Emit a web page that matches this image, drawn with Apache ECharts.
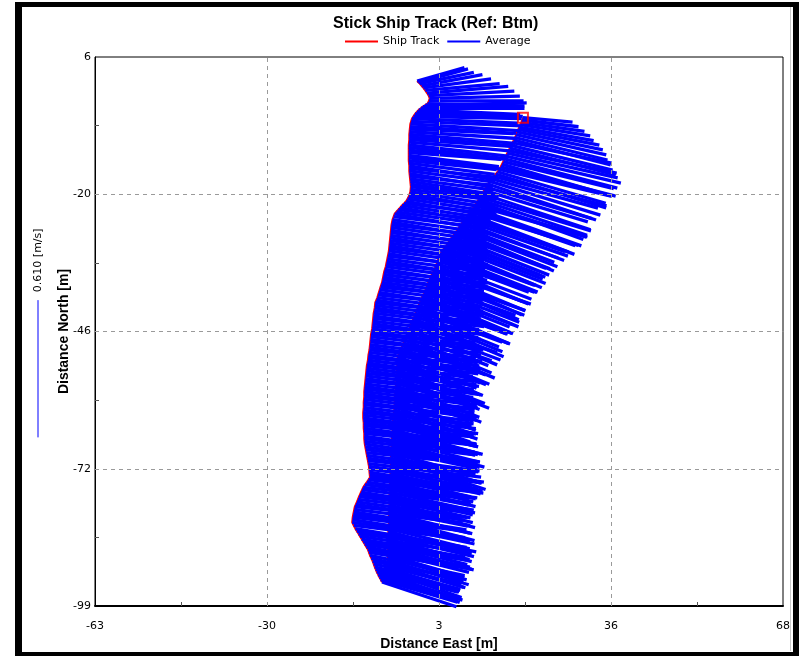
<!DOCTYPE html>
<html>
<head>
<meta charset="utf-8">
<script src="https://cdn.jsdelivr.net/npm/echarts@6/dist/echarts.min.js"></script>
<style>
  html, body { margin: 0; padding: 0; background: #ffffff; }
  #chart { width: 799px; height: 656px; }
</style>
</head>
<body>
<div id="chart"></div>
<script>
// Axis extents in metres (east / north of the reference point)
const xRange = [-63, 68.35];
const yRange = [-99, 6];
// Tick labels, from the minimum of each axis upwards
const xTickLabels = ['-63', '-30', '3', '36', '68'];
const yTickLabels = ['-99', '-72', '-46', '-20', '6'];
// Speed represented by the scale bar (one north grid step long)
const scaleSpeed = 0.610;

// Southbound leg of the ship track: [east m, north m, u m/s, v m/s]
const southLeg = [
  [18.7,-5.6,0.22,-0.02],[18.55,-6.05,0.25,-0.03],[18.4,-6.5,0.28,-0.04],[18.2,-6.95,0.31,-0.05],
  [18.0,-7.4,0.33,-0.06],[17.8,-7.85,0.36,-0.07],[17.6,-8.3,0.38,-0.08],[17.4,-8.85,0.40,-0.09],
  [17.2,-9.4,0.41,-0.10],[16.95,-9.9,0.43,-0.11],[16.7,-10.4,0.44,-0.09],[16.45,-10.9,0.45,-0.11],
  [16.2,-11.4,0.47,-0.12],[15.95,-11.9,0.48,-0.10],[15.7,-12.4,0.49,-0.11],[15.45,-12.95,0.51,-0.12],
  [15.2,-13.5,0.50,-0.13],[14.95,-14.0,0.49,-0.12],[14.7,-14.5,0.48,-0.14],[14.45,-15.0,0.51,-0.13],
  [14.2,-15.5,0.50,-0.12],[13.85,-15.95,0.48,-0.14],[13.5,-16.4,0.49,-0.15],[13.15,-16.85,0.50,-0.13],
  [12.8,-17.3,0.47,-0.13],[12.4,-17.8,0.49,-0.15],[12.0,-18.3,0.48,-0.16],[11.65,-18.9,0.47,-0.14],
  [11.3,-19.5,0.46,-0.14],[10.95,-20.15,0.48,-0.16],[10.6,-20.8,0.49,-0.15],[10.3,-21.2,0.48,-0.16],
  [10.0,-21.6,0.47,-0.17],[9.75,-22.0,0.49,-0.15],[9.5,-22.4,0.50,-0.14],[9.2,-22.8,0.48,-0.17],
  [8.9,-23.2,0.46,-0.16],[8.6,-23.6,0.48,-0.15],[8.3,-24.0,0.47,-0.18],[8.05,-24.4,0.45,-0.16],
  [7.8,-24.8,0.44,-0.15],[7.5,-25.2,0.46,-0.16],[7.2,-25.6,0.45,-0.17],[6.9,-26.0,0.43,-0.15],
  [6.6,-26.4,0.42,-0.16],[6.35,-26.8,0.44,-0.17],[6.1,-27.2,0.43,-0.18],[5.8,-27.6,0.42,-0.16],
  [5.5,-28.0,0.41,-0.15],[5.2,-28.4,0.43,-0.17],[4.9,-28.8,0.42,-0.17],[4.65,-29.2,0.40,-0.15],
  [4.4,-29.6,0.42,-0.16],[4.1,-30.0,0.44,-0.17],[3.8,-30.4,0.43,-0.18],[3.5,-30.8,0.41,-0.16],
  [3.2,-31.2,0.41,-0.15],[3.0,-31.65,0.43,-0.17],[2.8,-32.1,0.42,-0.16],[2.6,-32.55,0.40,-0.15],
  [2.4,-33.0,0.44,-0.14],[2.25,-33.45,0.42,-0.16],[2.1,-33.9,0.41,-0.17],[1.9,-34.35,0.39,-0.15],
  [1.7,-34.8,0.43,-0.15],[1.5,-35.2,0.41,-0.17],[1.3,-35.6,0.40,-0.18],[1.1,-36.05,0.42,-0.15],
  [0.9,-36.5,0.42,-0.16],[0.7,-36.95,0.40,-0.17],[0.5,-37.4,0.39,-0.14],[0.35,-37.85,0.41,-0.16],
  [0.2,-38.3,0.41,-0.17],[0.0,-38.75,0.39,-0.15],[-0.2,-39.2,0.38,-0.15],[-0.4,-39.6,0.40,-0.17],
  [-0.6,-40.0,0.40,-0.16],[-0.8,-40.5,0.38,-0.15],[-1.0,-41.0,0.39,-0.14],[-1.2,-41.5,0.40,-0.17],
  [-1.4,-42.0,0.41,-0.16],[-1.6,-42.5,0.38,-0.14],[-1.8,-43.0,0.37,-0.15],[-2.0,-43.5,0.39,-0.16],
  [-2.2,-44.0,0.40,-0.17],[-2.4,-44.5,0.37,-0.14],[-2.6,-45.0,0.38,-0.13],[-2.8,-45.5,0.40,-0.15],
  [-3.0,-46.0,0.39,-0.16],[-3.2,-46.5,0.37,-0.13],[-3.4,-47.0,0.36,-0.14],[-3.65,-47.55,0.38,-0.16],
  [-3.9,-48.1,0.40,-0.17],[-4.1,-48.65,0.36,-0.14],[-4.3,-49.2,0.37,-0.13],[-4.5,-49.7,0.39,-0.16],
  [-4.7,-50.2,0.38,-0.15],[-4.95,-50.75,0.36,-0.13],[-5.2,-51.3,0.35,-0.14],[-5.25,-51.8,0.37,-0.16],
  [-5.3,-52.3,0.38,-0.15],[-5.3,-52.8,0.35,-0.13],[-5.3,-53.3,0.36,-0.12],[-5.35,-53.8,0.39,-0.15],
  [-5.4,-54.3,0.41,-0.16],[-5.45,-54.85,0.38,-0.13],[-5.5,-55.4,0.37,-0.14],[-5.5,-55.9,0.36,-0.12],
  [-5.5,-56.4,0.35,-0.11],[-5.55,-56.9,0.37,-0.14],[-5.6,-57.4,0.38,-0.15],[-5.65,-57.9,0.36,-0.13],
  [-5.7,-58.4,0.34,-0.12],[-5.75,-58.9,0.35,-0.11],[-5.8,-59.4,0.36,-0.14],[-5.8,-59.9,0.34,-0.12],
  [-5.8,-60.4,0.33,-0.10],[-5.85,-60.95,0.35,-0.12],[-5.9,-61.5,0.37,-0.13],[-5.95,-62.0,0.35,-0.11],
  [-6.0,-62.5,0.34,-0.12],[-6.05,-63.05,0.37,-0.12],[-6.1,-63.6,0.36,-0.11],[-6.15,-64.15,0.37,-0.10],
  [-6.2,-64.7,0.38,-0.09],[-6.2,-65.2,0.39,-0.11],[-6.2,-65.7,0.40,-0.10],[-6.25,-66.2,0.38,-0.09],
  [-6.3,-66.7,0.37,-0.08],[-6.3,-67.2,0.39,-0.10],[-6.3,-67.7,0.41,-0.11],[-6.35,-68.2,0.39,-0.10],
  [-6.4,-68.7,0.38,-0.09],[-6.4,-69.2,0.37,-0.08],[-6.4,-69.7,0.36,-0.10],[-6.45,-70.2,0.39,-0.12],
  [-6.5,-70.7,0.42,-0.14],[-6.5,-71.2,0.40,-0.10],[-6.5,-71.7,0.38,-0.08],[-6.55,-72.2,0.36,-0.09],
  [-6.6,-72.7,0.37,-0.10],[-6.6,-73.2,0.39,-0.08],[-6.6,-73.7,0.40,-0.09],[-6.65,-74.2,0.38,-0.10],
  [-6.7,-74.7,0.36,-0.08],[-6.7,-75.2,0.37,-0.09],[-6.7,-75.7,0.38,-0.10],[-6.7,-76.2,0.36,-0.08],
  [-6.7,-76.7,0.35,-0.07],[-6.75,-77.2,0.36,-0.08],[-6.8,-77.7,0.37,-0.09],[-6.8,-78.2,0.38,-0.07],
  [-6.8,-78.7,0.36,-0.08],[-6.8,-79.2,0.37,-0.09],[-6.8,-79.7,0.38,-0.10],[-6.85,-80.2,0.36,-0.08],
  [-6.9,-80.7,0.35,-0.07],[-6.9,-81.2,0.36,-0.09],[-6.9,-81.7,0.37,-0.08],[-6.9,-82.2,0.38,-0.10],
  [-6.9,-82.7,0.36,-0.09],[-6.9,-83.2,0.35,-0.08],[-6.9,-83.7,0.38,-0.08],[-6.95,-84.2,0.36,-0.09],
  [-7.0,-84.7,0.37,-0.10],[-7.0,-85.2,0.39,-0.08],[-7.0,-85.7,0.38,-0.09],[-7.0,-86.2,0.37,-0.10],
  [-7.0,-86.7,0.36,-0.08],[-7.0,-87.2,0.35,-0.09],[-7.0,-87.7,0.37,-0.10],[-7.05,-88.2,0.38,-0.09],
  [-7.1,-88.7,0.36,-0.09],[-7.1,-89.2,0.34,-0.10],[-7.1,-89.7,0.35,-0.10],[-7.15,-90.2,0.36,-0.11],
  [-7.2,-90.7,0.34,-0.11],[-7.35,-91.2,0.35,-0.10],[-7.5,-91.7,0.33,-0.10],[-7.65,-92.2,0.34,-0.12],
  [-7.8,-92.7,0.33,-0.12],[-7.9,-93.15,0.35,-0.11],[-8.0,-93.6,0.34,-0.11]
];

// Northbound leg of the ship track: [east m, north m, u m/s, v m/s]
const northLeg = [
  [-8.2,-94.4,0.33,-0.11],[-8.45,-93.95,0.34,-0.10],[-8.7,-93.5,0.35,-0.10],[-8.95,-93.0,0.37,-0.11],
  [-9.2,-92.5,0.36,-0.09],[-9.4,-92.0,0.37,-0.10],[-9.6,-91.5,0.38,-0.10],[-9.8,-90.95,0.39,-0.09],
  [-10.0,-90.4,0.40,-0.08],[-10.25,-89.85,0.41,-0.10],[-10.5,-89.3,0.42,-0.09],[-10.7,-88.75,0.43,-0.07],
  [-10.9,-88.2,0.44,-0.08],[-11.2,-87.7,0.46,-0.09],[-11.5,-87.2,0.45,-0.07],[-11.8,-86.7,0.47,-0.08],
  [-12.1,-86.2,0.46,-0.08],[-12.4,-85.7,0.47,-0.07],[-12.7,-85.2,0.48,-0.06],[-13.0,-84.7,0.49,-0.08],
  [-13.3,-84.2,0.47,-0.08],[-13.6,-83.6,0.48,-0.06],[-13.9,-83.0,0.49,-0.07],[-13.85,-82.5,0.50,-0.08],
  [-13.8,-82.0,0.48,-0.06],[-13.7,-81.5,0.49,-0.07],[-13.6,-81.0,0.50,-0.08],[-13.5,-80.5,0.48,-0.06],
  [-13.4,-80.0,0.47,-0.05],[-13.2,-79.55,0.48,-0.07],[-13.0,-79.1,0.49,-0.07],[-12.8,-78.6,0.50,-0.06],
  [-12.6,-78.1,0.48,-0.06],[-12.4,-77.65,0.49,-0.07],[-12.2,-77.2,0.50,-0.08],[-12.0,-76.75,0.48,-0.06],
  [-11.8,-76.3,0.47,-0.05],[-11.45,-75.8,0.48,-0.06],[-11.1,-75.3,0.49,-0.07],[-10.8,-74.85,0.51,-0.06],
  [-10.5,-74.4,0.50,-0.06],[-10.55,-73.9,0.49,-0.07],[-10.6,-73.4,0.48,-0.08],[-10.65,-72.85,0.50,-0.06],
  [-10.7,-72.3,0.51,-0.07],[-10.8,-71.75,0.50,-0.06],[-10.9,-71.2,0.49,-0.05],[-11.0,-70.7,0.48,-0.07],
  [-11.1,-70.2,0.50,-0.07],[-11.2,-69.65,0.49,-0.05],[-11.3,-69.1,0.48,-0.06],[-11.4,-68.55,0.50,-0.07],
  [-11.5,-68.0,0.51,-0.08],[-11.55,-67.5,0.49,-0.06],[-11.6,-67.0,0.49,-0.06],[-11.6,-66.5,0.48,-0.07],
  [-11.6,-66.0,0.47,-0.05],[-11.65,-65.5,0.49,-0.06],[-11.7,-65.0,0.50,-0.07],[-11.7,-64.5,0.49,-0.05],
  [-11.7,-64.0,0.48,-0.06],[-11.75,-63.5,0.50,-0.06],[-11.8,-63.0,0.51,-0.07],[-11.8,-62.5,0.50,-0.06],
  [-11.8,-62.0,0.49,-0.05],[-11.75,-61.5,0.48,-0.07],[-11.7,-61.0,0.47,-0.06],[-11.7,-60.5,0.49,-0.05],
  [-11.7,-60.0,0.50,-0.07],[-11.65,-59.5,0.49,-0.06],[-11.6,-59.0,0.48,-0.05],[-11.6,-58.5,0.49,-0.07],
  [-11.6,-58.0,0.50,-0.06],[-11.55,-57.5,0.48,-0.05],[-11.5,-57.0,0.47,-0.07],[-11.45,-56.5,0.48,-0.06],
  [-11.4,-56.0,0.49,-0.05],[-11.35,-55.5,0.50,-0.07],[-11.3,-55.0,0.48,-0.06],[-11.25,-54.5,0.49,-0.05],
  [-11.2,-54.0,0.50,-0.07],[-11.15,-53.5,0.48,-0.06],[-11.1,-53.0,0.47,-0.05],[-11.0,-52.5,0.48,-0.07],
  [-10.9,-52.0,0.49,-0.06],[-10.85,-51.5,0.50,-0.05],[-10.8,-51.0,0.48,-0.07],[-10.7,-50.5,0.49,-0.06],
  [-10.6,-50.0,0.50,-0.05],[-10.55,-49.5,0.48,-0.07],[-10.5,-49.0,0.47,-0.06],[-10.45,-48.5,0.48,-0.05],
  [-10.4,-48.0,0.49,-0.07],[-10.35,-47.5,0.50,-0.06],[-10.3,-47.0,0.48,-0.05],[-10.2,-46.5,0.47,-0.07],
  [-10.1,-46.0,0.46,-0.06],[-10.05,-45.5,0.47,-0.05],[-10.0,-45.0,0.48,-0.07],[-9.95,-44.5,0.49,-0.06],
  [-9.9,-44.0,0.47,-0.05],[-9.85,-43.5,0.48,-0.07],[-9.8,-43.0,0.49,-0.06],[-9.7,-42.5,0.47,-0.05],
  [-9.6,-42.0,0.46,-0.07],[-9.55,-41.5,0.47,-0.06],[-9.5,-41.0,0.48,-0.05],[-9.3,-40.5,0.46,-0.07],
  [-9.1,-40.0,0.47,-0.06],[-8.95,-39.5,0.46,-0.05],[-8.8,-39.0,0.45,-0.07],[-8.65,-38.5,0.46,-0.06],
  [-8.5,-38.0,0.47,-0.05],[-8.35,-37.55,0.45,-0.07],[-8.2,-37.1,0.46,-0.06],[-8.1,-36.6,0.45,-0.05],
  [-8.0,-36.1,0.44,-0.07],[-7.9,-35.6,0.45,-0.06],[-7.8,-35.1,0.46,-0.05],[-7.65,-34.6,0.44,-0.07],
  [-7.5,-34.1,0.45,-0.06],[-7.4,-33.6,0.44,-0.05],[-7.3,-33.1,0.43,-0.07],[-7.2,-32.6,0.44,-0.06],
  [-7.1,-32.1,0.45,-0.05],[-7.0,-31.6,0.43,-0.07],[-6.9,-31.1,0.44,-0.06],[-6.85,-30.6,0.43,-0.05],
  [-6.8,-30.1,0.42,-0.07],[-6.75,-29.6,0.43,-0.06],[-6.7,-29.1,0.44,-0.05],[-6.65,-28.6,0.42,-0.07],
  [-6.6,-28.1,0.43,-0.06],[-6.55,-27.6,0.42,-0.05],[-6.5,-27.1,0.41,-0.07],[-6.45,-26.6,0.42,-0.06],
  [-6.4,-26.1,0.43,-0.05],[-6.3,-25.6,0.41,-0.07],[-6.2,-25.1,0.42,-0.06],[-6.0,-24.55,0.41,-0.05],
  [-5.8,-24.0,0.40,-0.07],[-5.45,-23.6,0.42,-0.06],[-5.1,-23.2,0.41,-0.05],[-4.75,-22.8,0.40,-0.07],
  [-4.4,-22.4,0.39,-0.06],[-4.0,-22.0,0.41,-0.05],[-3.6,-21.6,0.40,-0.07],[-3.35,-21.15,0.39,-0.06],
  [-3.1,-20.7,0.38,-0.05],[-2.95,-20.25,0.40,-0.07],[-2.8,-19.8,0.39,-0.06],[-2.75,-19.3,0.38,-0.05],
  [-2.7,-18.8,0.37,-0.05],[-2.75,-18.3,0.39,-0.06],[-2.8,-17.8,0.38,-0.06],[-2.85,-17.3,0.37,-0.05],
  [-2.9,-16.8,0.36,-0.04],[-2.95,-16.3,0.37,-0.06],[-3.0,-15.8,0.38,-0.05],[-3.0,-15.3,0.39,-0.04],
  [-3.0,-14.8,0.37,-0.06],[-3.05,-14.3,0.38,-0.05],[-3.1,-13.8,0.39,-0.04],[-3.1,-13.3,0.41,-0.05],
  [-3.1,-12.8,0.40,-0.05],[-3.1,-12.3,0.41,-0.03],[-3.1,-11.8,0.42,-0.04],[-3.1,-11.3,0.43,-0.05],
  [-3.1,-10.8,0.44,-0.05],[-3.05,-10.3,0.46,-0.04],[-3.0,-9.8,0.45,-0.03],[-3.0,-9.3,0.46,-0.04],
  [-3.0,-8.8,0.47,-0.04],[-2.95,-8.3,0.48,-0.03],[-2.9,-7.8,0.46,-0.02],[-2.85,-7.3,0.47,-0.03],
  [-2.8,-6.8,0.48,-0.03],[-2.65,-6.3,0.49,-0.02],[-2.5,-5.8,0.47,-0.02],[-2.2,-5.35,0.48,-0.01],
  [-1.9,-4.9,0.46,-0.01],[-1.55,-4.5,0.47,-0.02],[-1.2,-4.1,0.45,-0.02],[-0.8,-3.8,0.46,0.00],
  [-0.4,-3.5,0.44,0.00],[0.05,-3.2,0.45,0.01],[0.5,-2.9,0.43,-0.01],[0.75,-2.4,0.42,0.00],
  [0.9,-1.9,0.40,0.01],[0.7,-1.4,0.38,0.02],[0.4,-0.9,0.36,0.03],[0.05,-0.4,0.33,0.03],
  [-0.3,0.1,0.30,0.04],[-0.65,0.5,0.27,0.05],[-1.0,0.9,0.24,0.05],[-1.25,1.15,0.22,0.06],
  [-1.5,1.4,0.21,0.06]
];

const ensembles = southLeg.concat(northLeg);
const trackPoints = ensembles.map(r => [r[0], r[1]]);

const xStep = (xRange[1] - xRange[0]) / 4;
const yStep = (yRange[1] - yRange[0]) / 4;
const xTicks = [0, 1, 2, 3, 4].map(i => xRange[0] + i * xStep);
const yTicks = [0, 1, 2, 3, 4].map(i => yRange[0] + i * yStep);
const xMinor = [0, 1, 2, 3].map(i => xTicks[i] + xStep / 2);
const yMinor = [0, 1, 2, 3].map(i => yTicks[i] + yStep / 2);
// metres of plot per m/s: the scale-bar speed spans one north grid step
const stickScale = yStep / scaleSpeed;

const tickFont = { color: '#000', fontSize: 11, fontFamily: 'DejaVu Sans' };
const nameFont = { color: '#000', fontSize: 14, fontWeight: 'bold', fontFamily: 'Liberation Sans' };

const chart = echarts.init(document.getElementById('chart'), null, { renderer: 'canvas' });

chart.setOption({
  animation: false,
  backgroundColor: '#ffffff',
  title: {
    text: 'Stick Ship Track (Ref: Btm)',
    left: 328, top: 11,
    textStyle: { color: '#000', fontSize: 16, fontWeight: 'bold', fontFamily: 'Liberation Sans' }
  },
  legend: {
    left: 340, top: 31,
    itemWidth: 33, itemHeight: 2, itemGap: 8,
    selectedMode: false,
    textStyle: tickFont,
    data: [{ name: 'Ship Track', icon: 'rect' }, { name: 'Average', icon: 'rect' }]
  },
  grid: {
    left: 95, top: 57, width: 688, height: 550,
    show: true, borderColor: '#000', borderWidth: 1, backgroundColor: '#fff'
  },
  xAxis: [{
    type: 'value', min: xRange[0], max: xRange[1], position: 'bottom',
    axisLine: { onZero: false, lineStyle: { color: '#000', width: 2 } },
    axisTick: { show: false },
    splitLine: { show: false },
    axisLabel: Object.assign({
      customValues: xTicks, margin: 15,
      formatter: v => xTickLabels[Math.round((v - xRange[0]) / xStep)]
    }, tickFont),
    name: 'Distance East [m]', nameLocation: 'middle', nameGap: 31, nameMoveOverlap: false,
    nameTextStyle: nameFont
  }, {
    type: 'value', min: xRange[0], max: xRange[1], position: 'bottom',
    axisLine: { show: false, onZero: false }, axisLabel: { show: false }, splitLine: { show: false },
    axisTick: { show: true, inside: true, length: 4, customValues: xMinor, lineStyle: { color: '#555' } }
  }],
  yAxis: [{
    type: 'value', min: yRange[0], max: yRange[1], position: 'left',
    axisLine: { onZero: false, lineStyle: { color: '#000', width: 1 } },
    axisTick: { show: false },
    splitLine: { show: false },
    axisLabel: Object.assign({
      customValues: yTicks, margin: 4,
      formatter: v => yTickLabels[Math.round((v - yRange[0]) / yStep)]
    }, tickFont),
    name: 'Distance North [m]', nameLocation: 'middle', nameGap: 24, nameMoveOverlap: false,
    nameTextStyle: nameFont
  }, {
    type: 'value', min: yRange[0], max: yRange[1], position: 'left',
    axisLine: { show: false, onZero: false }, axisLabel: { show: false }, splitLine: { show: false },
    axisTick: { show: true, inside: true, length: 4, customValues: yMinor, lineStyle: { color: '#555' } }
  }],
  series: [{
    name: 'Ship Track',
    type: 'line',
    data: trackPoints,
    showSymbol: false,
    z: 1,
    color: '#ff0000',
    lineStyle: { color: '#ff0000', width: 2 },
    markLine: {
      silent: true, symbol: 'none', label: { show: false },
      lineStyle: { color: '#9a9a9a', type: [4, 4], width: 1 },
      data: xTicks.slice(1, 4).map(v => ({ xAxis: v })).concat(yTicks.slice(1, 4).map(v => ({ yAxis: v })))
    }
  }, {
    name: 'Average',
    type: 'custom',
    data: ensembles,
    encode: { x: 0, y: 1 },
    z: 2,
    color: '#0000ff',
    itemStyle: { color: '#0000ff' },
    renderItem: (params, api) => {
      const e = api.value(0), n = api.value(1), u = api.value(2), v = api.value(3);
      const p0 = api.coord([e, n]);
      const p1 = api.coord([e + u * stickScale, n + v * stickScale]);
      return {
        type: 'line',
        shape: { x1: p0[0], y1: p0[1], x2: p1[0], y2: p1[1] },
        style: { stroke: '#0000ff', lineWidth: 3.3 }
      };
    }
  }, {
    name: 'Start',
    type: 'scatter',
    data: [trackPoints[0]],
    symbol: 'rect', symbolSize: 10,
    z: 3,
    itemStyle: { color: 'rgba(0,0,0,0)', borderColor: '#ff0000', borderWidth: 2 }
  }]
});

// Scale bar beside the north axis: its length is scaleSpeed * stickScale metres
const yTop = chart.convertToPixel({ yAxisIndex: 0 }, yRange[0] + 2 * yStep + 6);
const yBot = chart.convertToPixel({ yAxisIndex: 0 }, yRange[0] + 2 * yStep + 6 - scaleSpeed * stickScale);
chart.setOption({
  graphic: [
    { type: 'rect', shape: { x: 15, y: 3, width: 7, height: 653 }, style: { fill: '#000' }, silent: true },
    { type: 'rect', shape: { x: 15, y: 2, width: 784, height: 5 }, style: { fill: '#000' }, silent: true },
    { type: 'rect', shape: { x: 793, y: 3, width: 6, height: 653 }, style: { fill: '#000' }, silent: true },
    { type: 'rect', shape: { x: 15, y: 652, width: 784, height: 4 }, style: { fill: '#000' }, silent: true },
    { type: 'line', shape: { x1: 790.5, y1: 7, x2: 790.5, y2: 651 }, style: { stroke: '#c8c8c8', lineWidth: 1 }, silent: true },
    { type: 'line', shape: { x1: 38, y1: yTop, x2: 38, y2: yBot }, style: { stroke: '#0000ff', lineWidth: 1 }, silent: true },
    {
      type: 'text', x: 38, y: yTop - 8, rotation: Math.PI / 2, silent: true,
      style: { text: scaleSpeed.toFixed(3) + ' [m/s]', fill: '#000', fontSize: 11, fontFamily: 'DejaVu Sans', align: 'left', verticalAlign: 'middle' }
    }
  ]
});
</script>
</body>
</html>
